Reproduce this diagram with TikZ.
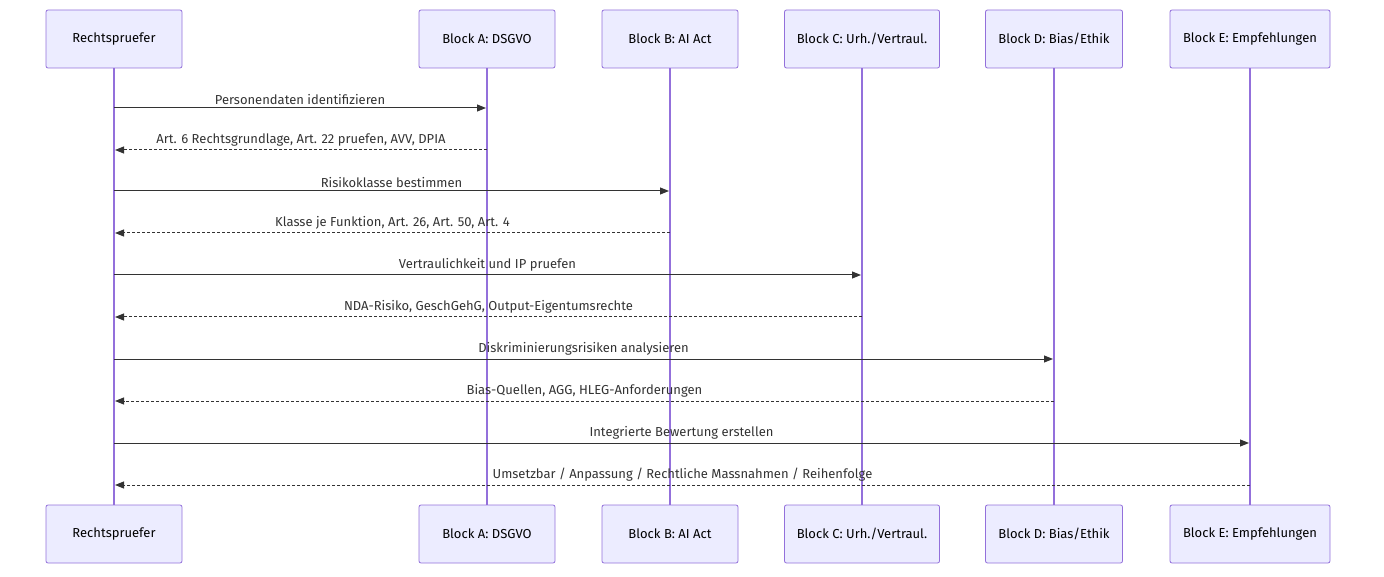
\documentclass[tikz,border=0pt]{standalone}
\usepackage{fontspec}
\setmainfont{Fira Sans}
\usetikzlibrary{arrows.meta,positioning,calc}
\definecolor{actorfill}{HTML}{ECECFF}
\definecolor{actorline}{HTML}{9370DB}
\definecolor{msgcolor}{HTML}{333333}
\tikzset{
  actor/.style={draw=actorline, fill=actorfill, line width=0.8pt, rounded corners=2pt,
    minimum height=58pt, font=\fontsize{13}{15}\selectfont, inner sep=2pt},
  lifeline/.style={draw=actorline, line width=1.4pt},
  msg/.style={draw=msgcolor, line width=1pt, -{Triangle[length=9pt,width=7pt]}},
  reply/.style={msg, dash pattern=on 3pt off 2pt},
  msglabel/.style={font=\fontsize{13}{15}\selectfont, text=msgcolor, anchor=south, inner sep=3pt}
}
\begin{document}
\begin{tikzpicture}[x=1pt,y=-1pt]
  \useasboundingbox (0,0) rectangle (1384,577);

  % participants
  \foreach \nm/\x/\w/\txt in
  {
    rp/114/136/Rechtspruefer,
    ba/487/136/{Block A: DSGVO},
    bb/670/136/{Block B: AI Act},
    bc/862/155/{Block C: Urh./Vertraul.},
    bd/1054/137/{Block D: Bias/Ethik},
    be/1250/160/{Block E: Empfehlungen}
  } {
    \draw[lifeline] (\x,68) -- (\x,505);
    \node[actor, minimum width=\w pt] (\nm-top) at (\x,39) {\txt};
    \node[actor, minimum width=\w pt] (\nm-bot) at (\x,534) {\txt};
  }

  % requests and replies
  \foreach \y/\x/\txt in
  {
    108/487/Personendaten identifizieren,
    191/670/Risikoklasse bestimmen,
    275/862/Vertraulichkeit und IP pruefen,
    359/1054/Diskriminierungsrisiken analysieren,
    443/1250/Integrierte Bewertung erstellen
  } {
    \coordinate (from) at (114,\y);
    \coordinate (to) at (\x-1,\y);
    \draw[msg] (from) -- (to) node[msglabel, midway] {\txt};
  }
  \foreach \y/\x/\txt in
  {
    150/487/{Art. 6 Rechtsgrundlage, Art. 22 pruefen, AVV, DPIA},
    233/670/{Klasse je Funktion, Art. 26, Art. 50, Art. 4},
    317/862/{NDA-Risiko, GeschGehG, Output-Eigentumsrechte},
    401/1054/{Bias-Quellen, AGG, HLEG-Anforderungen},
    485/1250/{Umsetzbar / Anpassung / Rechtliche Massnahmen / Reihenfolge}
  } {
    \coordinate (from) at (\x,\y);
    \coordinate (to) at (115,\y);
    \draw[reply] (from) -- (to) node[msglabel, midway] {\txt};
  }
\end{tikzpicture}
\end{document}
